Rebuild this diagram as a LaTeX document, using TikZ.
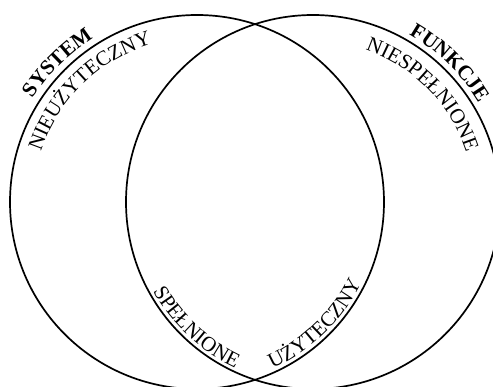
\documentclass[tikz,border=0pt]{standalone}
\usepackage{fontspec}
\setmainfont{Liberation Serif}
\usetikzlibrary{decorations.text}
\begin{document}
\fontsize{21}{25}\selectfont
\begin{tikzpicture}[x=1pt,y=1pt,
  ring/.style={draw, circle, line width=1.7pt, minimum size=374pt, inner sep=0pt, outer sep=0pt},
  arctext/.style={decorate, decoration={text along path, text align=center, text={#1}}}]
\useasboundingbox (0,0) rectangle (493,387);
\clip (0,0) rectangle (493,387);
\node[ring] (sys) at (197,185) {};
\node[ring] (fun) at (313,185) {};
% left circle labels
\path[arctext={|\bfseries|SYSTEM}, shift={(sys.center)}]
  (175:194) arc[start angle=175, end angle=95, radius=194];
\path[arctext={NIEUŻYTECZNY}, shift={(sys.center)}]
  (180:164) arc[start angle=180, end angle=88, radius=164];
\path[arctext={UŻYTECZNY}, shift={(sys.center)}]
  (-90:183) arc[start angle=-90, end angle=-2, radius=183];
% right circle labels
\path[arctext={|\bfseries|FUNKCJE}, shift={(fun.center)}]
  (85:193) arc[start angle=85, end angle=6, radius=193];
\path[arctext={NIESPEŁNIONE}, shift={(fun.center)}]
  (90:161) arc[start angle=90, end angle=-1, radius=161];
\path[arctext={SPEŁNIONE}, shift={(fun.center)}]
  (183:183) arc[start angle=183, end angle=271, radius=183];
\end{tikzpicture}
\end{document}
